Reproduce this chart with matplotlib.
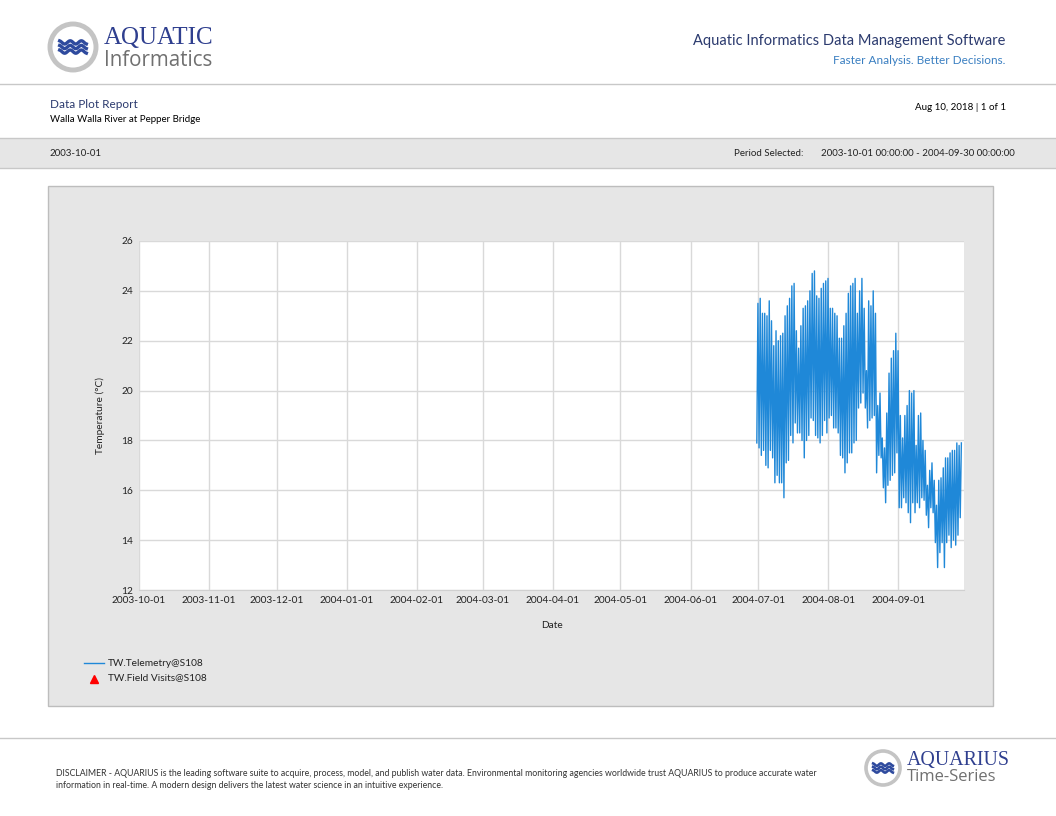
import matplotlib
matplotlib.use("Agg")
import matplotlib.pyplot as plt
import matplotlib.dates as mdates
from matplotlib.patches import Rectangle, Ellipse
import numpy as np
import datetime as dt

W, H = 1056, 816

# daily maximum / minimum water temperature, starting 2004-06-30
start_day = dt.datetime(2004, 6, 30)
daily_max = [23.5, 23.7, 23.1, 23.1, 23.0, 23.6, 22.8, 21.8, 22.4, 22.0,
             22.2, 22.3, 23.0, 23.4, 23.7, 24.2, 24.3, 22.4, 21.7, 22.6,
             23.3, 23.4, 23.6, 24.0, 24.7, 24.8, 23.8, 23.7, 24.1, 24.3,
             24.4, 24.5, 23.3, 23.3, 23.1, 23.0, 22.1, 22.1, 22.6, 23.1,
             23.9, 24.2, 24.3, 24.5, 23.1, 24.0, 24.5, 23.3, 20.8, 23.6,
             23.4, 24.0, 23.1, 19.4, 19.9, 18.1, 17.7, 19.1, 20.7, 21.3,
             21.6, 22.3, 21.6, 19.0, 18.1, 19.0, 19.4, 20.0, 19.9, 20.0,
             17.8, 19.0, 19.1, 18.0, 17.6, 16.2, 16.8, 17.1, 16.4, 15.4,
             16.4, 16.5, 16.9, 17.3, 17.3, 17.5, 17.6, 17.6, 17.9, 17.8,
             17.9]
daily_min = [17.9, 17.7, 17.4, 17.6, 17.0, 16.9, 17.6, 17.3, 16.3, 16.6,
             16.3, 16.3, 15.7, 17.1, 17.2, 18.2, 17.9, 18.7, 18.3, 18.3,
             18.0, 17.3, 18.0, 18.2, 18.9, 18.8, 18.2, 18.1, 17.9, 18.2,
             18.8, 18.3, 18.9, 19.0, 18.5, 18.5, 18.3, 17.4, 17.3, 16.7,
             17.1, 17.5, 17.5, 17.9, 18.0, 19.3, 19.5, 19.9, 19.3, 18.5,
             18.8, 18.9, 19.0, 16.7, 17.4, 17.3, 16.1, 15.5, 16.2, 16.4,
             16.6, 16.7, 17.5, 15.3, 15.3, 15.7, 15.5, 15.1, 14.7, 15.5,
             15.1, 15.5, 15.3, 15.7, 15.6, 15.0, 14.5, 15.3, 15.1, 13.9,
             12.9, 13.5, 13.9, 12.9, 13.9, 14.2, 13.7, 14.0, 13.8, 14.2,
             14.9]

y_ticks = [12, 14, 16, 18, 20, 22, 24, 26]
x_start = dt.datetime(2003, 10, 1)
x_end = dt.datetime(2004, 9, 30)

# series: min in the morning, max in the evening
times, temps = [], []
for i in range(len(daily_max)):
    d = start_day + dt.timedelta(days=i)
    times.append(d + dt.timedelta(hours=8))
    temps.append(daily_min[i])
    times.append(d + dt.timedelta(hours=20))
    temps.append(daily_max[i])

plt.rcParams['font.family'] = ['Lato', 'DejaVu Sans']

fig = plt.figure(figsize=(W / 100, H / 100), dpi=100)
fig.patch.set_facecolor('white')


def fx(x):
    return x / W


def fy(y):
    return 1 - y / H


def txt(x, y, s, **kw):
    fig.text(fx(x), fy(y), s, va='center', **kw)


def hline(y, color='#c8c8c8', lw=1.0):
    fig.add_artist(plt.Line2D([0, 1], [fy(y), fy(y)], color=color, lw=lw,
                              transform=fig.transFigure))


def box(x0, y0, x1, y1, fc, ec):
    fig.add_artist(Rectangle((fx(x0), fy(y1)), fx(x1) - fx(x0), fy(y0) - fy(y1),
                             facecolor=fc, edgecolor=ec, lw=1,
                             transform=fig.transFigure, zorder=0))


def logo(cx, cy, r, wlw):
    fig.add_artist(Ellipse((fx(cx), fy(cy)), 2 * r / W, 2 * r / H, facecolor='white',
                           edgecolor='#c4c4c4', lw=r / 6.5, transform=fig.transFigure))
    # waves
    t = np.linspace(-0.58, 0.58, 60)
    for off in [-0.2, 0.0, 0.2]:
        xs = cx + t * r
        ys = cy + off * r + 0.07 * r * np.sin(t * 13)
        fig.add_artist(plt.Line2D(fx(xs), fy(ys), color='#2e4a9e', lw=wlw,
                                  transform=fig.transFigure))


# header
logo(73, 47, 23, 2.4)
txt(104, 38, 'AQUATIC', fontsize=18, color='#2f3f8f', family='Liberation Serif')
txt(104, 60, 'Informatics', fontsize=14.8, color='#707070', family='Open Sans')
txt(1005, 41, 'Aquatic Informatics Data Management Software', fontsize=10.5,
    color='#2b3a6e', ha='right')
txt(1005, 60, 'Faster Analysis. Better Decisions.', fontsize=8.5,
    color='#3a7fc1', ha='right')
hline(84)

txt(50, 104, 'Data Plot Report', fontsize=8.5, color='#2b3a6e')
txt(50, 120, 'Walla Walla River at Pepper Bridge', fontsize=7, color='black')
txt(1006, 107, 'Aug 10, 2018 | 1 of 1', fontsize=7, color='black', ha='right')

box(-2, 138, W + 2, 168, '#e6e6e6', '#c8c8c8')
txt(50, 153, '2003-10-01', fontsize=7, color='#222222')
txt(803, 153, 'Period Selected:', fontsize=7, color='#222222', ha='right')
txt(1015, 153, '2003-10-01 00:00:00 - 2004-09-30 00:00:00', fontsize=7,
    color='#222222', ha='right')

# chart panel
box(48, 186, 993, 706, '#e6e6e6', '#bdbdbd')

ax = fig.add_axes([fx(139), fy(590), fx(964) - fx(139), fy(241) - fy(590)])
ax.set_facecolor('white')
ax.plot(times, temps, color='#1f88d8', lw=1.0)
ax.set_xlim(x_start, x_end)
ax.set_ylim(12, 26)
ax.set_yticks(y_ticks)
ax.xaxis.set_major_locator(mdates.MonthLocator())
ax.xaxis.set_major_formatter(mdates.DateFormatter('%Y-%m-%d'))
ax.grid(True, color='#d9d9d9', lw=1)
ax.set_axisbelow(True)
for side in ['top', 'right', 'left']:
    ax.spines[side].set_visible(False)
ax.spines['bottom'].set_color('#d0d0d0')
ax.tick_params(length=0, labelsize=7.3, colors='#222222', pad=4)
ax.set_xlabel('Date', fontsize=7.3, color='#222222', labelpad=12)
ax.set_ylabel('Temperature (°C)', fontsize=7.3, color='#222222', labelpad=12)

# legend
fig.add_artist(plt.Line2D([fx(84), fx(104)], [fy(663), fy(663)], color='#1f88d8',
                          lw=1, transform=fig.transFigure))
fig.add_artist(plt.Line2D([fx(94)], [fy(679)], marker='^', color='red', ms=6,
                          lw=0, transform=fig.transFigure))
txt(108, 663, 'TW.Telemetry@S108', fontsize=7.3, color='#222222')
txt(108, 678, 'TW.Field Visits@S108', fontsize=7.3, color='#222222')

# footer
hline(738)
txt(56, 773, 'DISCLAIMER - AQUARIUS is the leading software suite to acquire, process, model, and '
    'publish water data. Environmental monitoring agencies worldwide trust AQUARIUS to produce accurate water',
    fontsize=6.3, color='#333333')
txt(56, 785, 'information in real-time. A modern design delivers the latest water science in an intuitive experience.',
    fontsize=6.3, color='#333333')
logo(883, 768, 17, 1.9)
txt(907, 761, 'AQUARIUS', fontsize=14.3, color='#2f3f8f', family='Liberation Serif')
txt(907, 777, 'Time-Series', fontsize=12, color='#707070', family='Open Sans')

fig.savefig('out.png', dpi=100)
